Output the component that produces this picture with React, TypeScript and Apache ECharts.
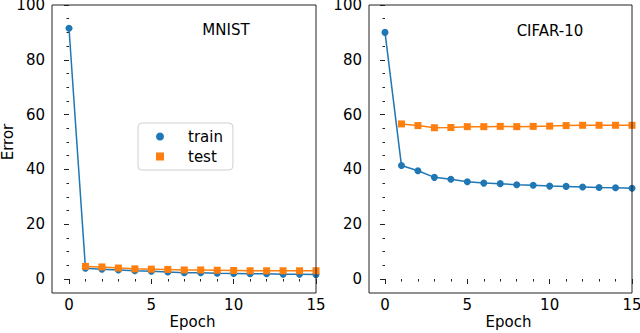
import React, { useEffect, useRef } from "react";
import * as echarts from "echarts";

const epochs = [0, 1, 2, 3, 4, 5, 6, 7, 8, 9, 10, 11, 12, 13, 14, 15];
const mnistTrain = [91.5, 3.9, 3.6, 3.3, 3.0, 2.8, 2.6, 2.3, 2.3, 2.1, 2.0, 1.9, 1.9, 1.7, 1.7, 1.6];
const mnistTest = [null, 4.6, 4.4, 4.0, 3.7, 3.6, 3.5, 3.3, 3.3, 3.2, 3.1, 3.0, 3.0, 3.0, 3.0, 3.0];
const cifarTrain = [90.0, 41.4, 39.5, 37.1, 36.4, 35.5, 35.0, 34.8, 34.4, 34.2, 33.9, 33.8, 33.6, 33.4, 33.3, 33.1];
const cifarTest = [null, 56.6, 56.0, 55.2, 55.3, 55.6, 55.6, 55.7, 55.6, 55.7, 55.8, 56.0, 56.1, 56.1, 56.1, 56.1];
const panelTitles = ["MNIST", "CIFAR-10"];
const xTicks = { min: 0, max: 15, interval: 5, minor: 1 };
const yTicks = { min: 0, max: 100, interval: 20, minor: 5 };

const BLUE = "#1f77b4";
const ORANGE = "#ff7f0e";
const FONT = "DejaVu Sans";

function pairs(vals: (number | null)[]) {
  return epochs.map((e, i) => [e, vals[i] === null ? "-" : vals[i]]);
}

export default function App() {
  const ref = useRef<HTMLDivElement>(null);
  useEffect(() => {
    if (!ref.current) return;
    const chart = echarts.init(ref.current, null, { renderer: "svg" });
    const grids = [
      { left: 69, top: 5, width: 247, height: 274, frameLeft: 52, offY: 17 },
      { left: 385, top: 5, width: 247, height: 274, frameLeft: 369, offY: 16 },
    ];
    const tickLine = { color: "#222", width: 1 };
    const xAxes: any[] = [];
    const yAxes: any[] = [];
    grids.forEach((g, i) => {
      xAxes.push({
        type: "value",
        gridIndex: i,
        position: "bottom",
        min: xTicks.min,
        max: xTicks.max,
        interval: xTicks.interval,
        offset: 14,
        name: "Epoch",
        nameLocation: "middle",
        nameGap: 21,
        nameMoveOverlap: false,
        nameTextStyle: { fontFamily: FONT, fontSize: 15, color: "#000" },
        axisLine: { show: false },
        axisTick: { show: true, length: 5, lineStyle: tickLine },
        axisLabel: { fontFamily: FONT, fontSize: 15, color: "#000", margin: 4 },
        splitLine: { show: false },
      });
      yAxes.push({
        type: "value",
        gridIndex: i,
        position: "left",
        min: yTicks.min,
        max: yTicks.max,
        interval: yTicks.interval,
        offset: g.offY,
        name: i === 0 ? "Error" : "",
        nameLocation: "middle",
        nameGap: 37,
        nameMoveOverlap: false,
        nameTextStyle: { fontFamily: FONT, fontSize: 15, color: "#000", lineHeight: 14 },
        axisLine: { show: false },
        axisTick: { show: true, length: 5, lineStyle: tickLine },
        axisLabel: { fontFamily: FONT, fontSize: 15, color: "#000", margin: 7, lineHeight: 12 },
        splitLine: { show: false },
      });
    });
    // minor tick axes
    grids.forEach((g, i) => {
      xAxes.push({
        type: "value",
        gridIndex: i,
        position: "bottom",
        min: xTicks.min,
        max: xTicks.max,
        interval: xTicks.minor,
        offset: 14,
        axisLine: { show: false },
        axisTick: { show: true, length: 2.5, lineStyle: tickLine },
        axisLabel: { show: false },
        splitLine: { show: false },
      });
      yAxes.push({
        type: "value",
        gridIndex: i,
        position: "left",
        min: yTicks.min,
        max: yTicks.max,
        interval: yTicks.minor,
        offset: g.offY,
        axisLine: { show: false },
        axisTick: { show: true, length: 2.5, lineStyle: tickLine },
        axisLabel: { show: false },
        splitLine: { show: false },
      });
    });
    const mk = (name: string, vals: (number | null)[], idx: number, color: string, symbol: string) => ({
      name,
      type: "line",
      xAxisIndex: idx,
      yAxisIndex: idx,
      data: pairs(vals),
      symbol,
      symbolSize: 7,
      showAllSymbol: true,
      clip: false,
      lineStyle: { color, width: 1.5 },
      itemStyle: { color },
      emphasis: { disabled: true },
    });
    chart.setOption({
      animation: false,
      textStyle: { fontFamily: FONT },
      grid: grids.map((g) => ({
        left: g.left, top: g.top, width: g.width, height: g.height,
        containLabel: false, outerBoundsMode: "none",
      })),
      xAxis: xAxes,
      yAxis: yAxes,
      title: [
        { text: panelTitles[0], left: 226, top: 22, textAlign: "center", padding: 0,
          textStyle: { fontFamily: FONT, fontSize: 15, fontWeight: "normal", color: "#000" } },
        { text: panelTitles[1], left: 550, top: 23, textAlign: "center", padding: 0,
          textStyle: { fontFamily: FONT, fontSize: 15, fontWeight: "normal", color: "#000" } },
      ],
      legend: {
        orient: "vertical",
        left: 138,
        top: 123,
        width: 92,
        padding: [6, 10, 6, 18],
        itemGap: 5,
        itemWidth: 8,
        itemHeight: 8,
        borderColor: "#d0d0d0",
        borderWidth: 1,
        borderRadius: 4,
        selectedMode: false,
        textStyle: { fontFamily: FONT, fontSize: 15, color: "#000", padding: [0, 20, 0, 19] },
        data: [
          { name: "train", icon: "circle" },
          { name: "test", icon: "rect" },
        ],
      },
      graphic: grids.map((g) => ({
        type: "rect",
        shape: { x: g.frameLeft, y: 5, width: g.left + g.width - g.frameLeft, height: 288 },
        style: { fill: "none", stroke: "#222", lineWidth: 1 },
        silent: true,
        z: 10,
      })),
      series: [
        mk("train", mnistTrain, 0, BLUE, "circle"),
        mk("test", mnistTest, 0, ORANGE, "rect"),
        mk("train", cifarTrain, 1, BLUE, "circle"),
        mk("test", cifarTest, 1, ORANGE, "rect"),
      ],
    });
    return () => chart.dispose();
  }, []);
  return (
    <div
      ref={ref}
      style={{ position: "fixed", left: 0, top: 0, width: 640, height: 333, background: "#fff" }}
    />
  );
}
